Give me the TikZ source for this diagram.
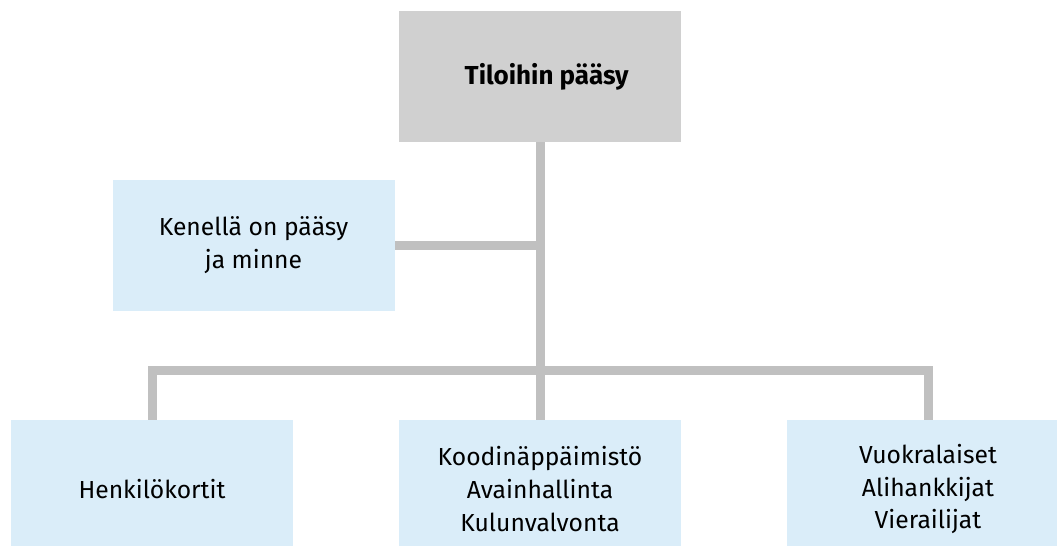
\documentclass[tikz,border=0pt]{standalone}
\usepackage{fontspec}
\setmainfont{Fira Sans}
\usetikzlibrary{positioning}

\definecolor{boxgray}{HTML}{D0D0D0}
\definecolor{boxblue}{HTML}{DAEDF9}
\definecolor{linegray}{HTML}{C0C0C0}

\tikzset{
    topbox/.style={fill=boxgray, minimum width=211.5pt, minimum height=98.25pt, inner sep=0pt, align=center, font=\fontsize{19.5}{24.4}\selectfont\bfseries},
    subbox/.style={fill=boxblue, minimum width=211.5pt, minimum height=98.25pt, inner sep=0pt, align=center, font=\fontsize{18.5}{24.4}\selectfont},
    lowbox/.style={subbox, minimum height=103.5pt}
}
\tikzset{branch/.style={draw=linegray, line width=6.75pt, line join=miter}}

\begin{document}
\begin{tikzpicture}[x=0.75pt,y=-0.75pt]
    \useasboundingbox (0,0) rectangle (1057,546);
    \clip (0,0) rectangle (1057,546);

    \node[topbox] (paasy) at (540,76.5) {\hspace*{10pt}Tiloihin pääsy};
    \node[subbox] (kuka) at (253.5,245) {Kenellä on pääsy\\ja minne};
    \node[lowbox] (kortit) at (152,489) {Henkilökortit};
    \node[lowbox] (avaimet) at (540,489) {Koodinäppäimistö\\Avainhallinta\\Kulunvalvonta};
    \node[lowbox] (vieraat) at (928,489) {Vuokralaiset\\Alihankkijat\\Vierailijat};

    \coordinate (haara) at (540,370.5);

    \draw[branch](paasy.south)--(avaimet.north);
    \draw[branch](kuka.east)--(kuka.east -| paasy.south);
    \draw[branch](kortit.north)|-(haara)-|(vieraat.north);
\end{tikzpicture}
\end{document}
